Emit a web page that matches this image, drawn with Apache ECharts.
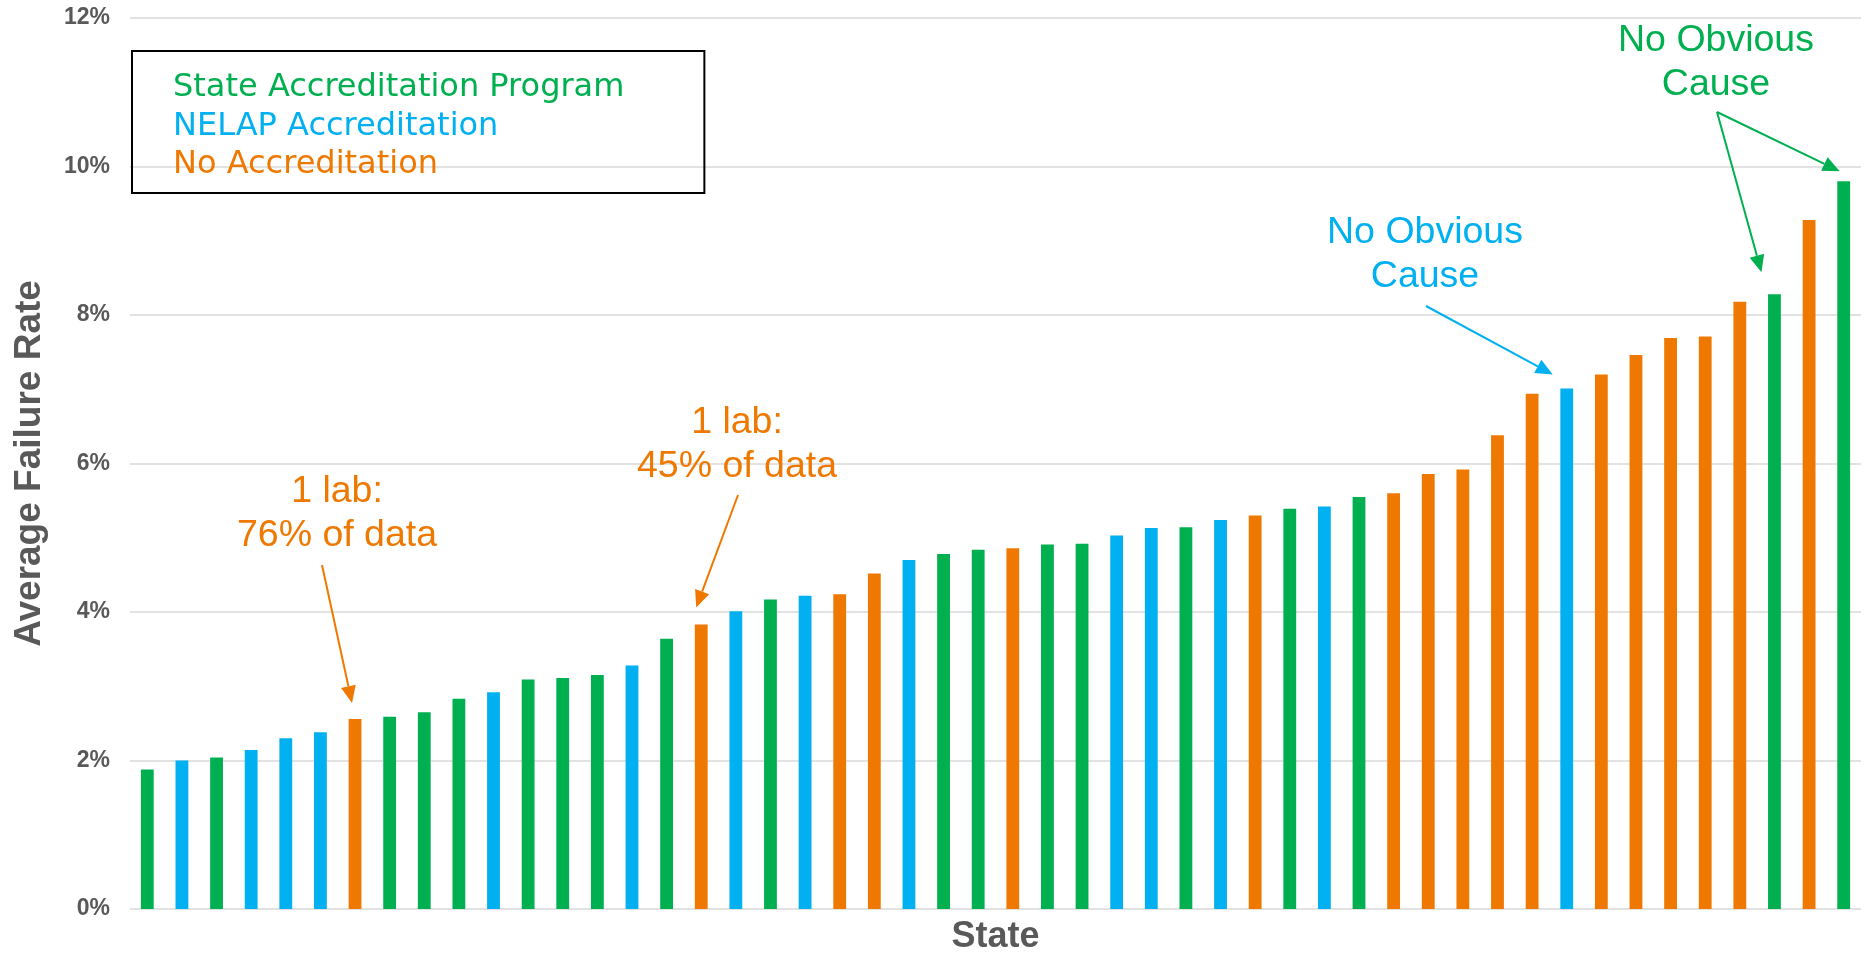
<!DOCTYPE html>
<html><head><meta charset="utf-8">
<script src="https://cdn.jsdelivr.net/npm/echarts@6/dist/echarts.min.js"></script>
<style>html,body{margin:0;padding:0;background:#fff}#c{width:1870px;height:956px}</style>
</head><body><div id="c"></div>
<script>
// ---- data ----
const categories = ['1','2','3','4','5','6','7','8','9','10','11','12','13','14','15','16','17','18','19','20',
  '21','22','23','24','25','26','27','28','29','30','31','32','33','34','35','36','37','38','39','40',
  '41','42','43','44','45','46','47','48','49','50'];
const failureRate = [1.88, 2.00, 2.04, 2.14, 2.30, 2.38, 2.56, 2.59, 2.65, 2.83,
  2.92, 3.09, 3.11, 3.15, 3.28, 3.64, 3.83, 4.01, 4.17, 4.22,
  4.24, 4.52, 4.70, 4.78, 4.84, 4.86, 4.91, 4.92, 5.03, 5.13,
  5.14, 5.24, 5.30, 5.39, 5.42, 5.55, 5.60, 5.86, 5.92, 6.38,
  6.94, 7.01, 7.20, 7.46, 7.69, 7.71, 8.18, 8.28, 9.28, 9.80];
// S = State Accreditation Program, N = NELAP Accreditation, O = No Accreditation
const accreditation = ['S','N','S','N','N','N','O','S','S','S',
  'N','S','S','S','N','S','O','N','S','N',
  'O','O','N','S','S','O','S','S','N','N',
  'S','N','O','S','N','S','O','O','O','O',
  'O','N','O','O','O','O','O','S','O','S'];
const groupKeys = ['S','N','O'];
const groupNames = ['State Accreditation Program','NELAP Accreditation','No Accreditation'];
const yTicks = [0, 2, 4, 6, 8, 10, 12];
// annotations: text, target bar indices
const annotations = [
  {text: '1 lab:\n76% of data', group: 'O', targets: [6]},
  {text: '1 lab:\n45% of data', group: 'O', targets: [16]},
  {text: 'No Obvious\nCause', group: 'N', targets: [41]},
  {text: 'No Obvious\nCause', group: 'S', targets: [47, 49]}
];

// ---- styles ----
const colors = {S: '#00B050', N: '#00B0F0', O: '#EF7800'};
const annLayout = [
  {cx: 337, cy: 514, start: [322, 565], tipOff: [[-3, -16]]},
  {cx: 737, cy: 445, start: [738, 495], tipOff: [[-5, -17]]},
  {cx: 1425, cy: 255, start: [1426, 306], tipOff: [[-14, -14]]},
  {cx: 1716, cy: 63, start: [1717, 112], tipOff: [[-13, -22], [-4, -10]]}
];

const chart = echarts.init(document.getElementById('c'), null, {renderer: 'canvas'});
const series = groupKeys.map((k, gi) => ({
  name: groupNames[gi],
  type: 'bar',
  barWidth: '37%',
  barGap: '-100%',
  itemStyle: {color: colors[k]},
  emphasis: {disabled: true},
  data: failureRate.map((v, i) => accreditation[i] === k ? v : '-')
}));

chart.setOption({
  animation: false,
  backgroundColor: '#fff',
  grid: {left: 130, right: 9, top: 18, bottom: 47, containLabel: false, outerBoundsMode: 'none'},
  legend: {
    orient: 'vertical', left: 132, top: 51,
    padding: [19, 80, 10, 36], itemGap: 2.5,
    itemWidth: 0, itemHeight: 0, icon: 'rect',
    borderColor: '#000', borderWidth: 2, selectedMode: false,
    textStyle: {fontFamily: 'DejaVu Sans', fontSize: 32, lineHeight: 36},
    data: groupKeys.map((k, gi) => ({name: groupNames[gi], textStyle: {color: colors[k]}}))
  },
  xAxis: {
    type: 'category', data: categories,
    name: 'State', nameLocation: 'middle', nameGap: 10,
    nameTextStyle: {fontFamily: 'Liberation Sans', fontWeight: 'bold', fontSize: 36, color: '#595959', verticalAlign: 'top'},
    axisLine: {show: false}, axisTick: {show: false}, axisLabel: {show: false}
  },
  yAxis: {
    type: 'value', min: yTicks[0], max: yTicks[yTicks.length - 1], interval: yTicks[1] - yTicks[0],
    name: 'Average Failure Rate', nameLocation: 'middle', nameGap: 82,
    nameTextStyle: {fontFamily: 'Liberation Sans', fontWeight: 'bold', fontSize: 37, color: '#595959'},
    axisLine: {show: false}, axisTick: {show: false},
    axisLabel: {formatter: '{value}%', fontFamily: 'Liberation Sans', fontWeight: 'bold', fontSize: 23, color: '#595959', margin: 20},
    splitLine: {lineStyle: {color: '#D9D9D9', width: 1.5}}
  },
  series: series
});

// ---- annotations anchored to bar tops ----
const elements = [];
annotations.forEach((a, ai) => {
  const L = annLayout[ai];
  const col = colors[a.group];
  elements.push({
    type: 'text', silent: true,
    style: {text: a.text, x: L.cx, y: L.cy, align: 'center', verticalAlign: 'middle',
      fontFamily: 'Liberation Sans', fontSize: 37.5, lineHeight: 44, fill: col}
  });
  a.targets.forEach((t, ti) => {
    const p = chart.convertToPixel({gridIndex: 0}, [t, failureRate[t]]);
    const tip = [p[0] + L.tipOff[ti][0], p[1] + L.tipOff[ti][1]];
    const s = L.start;
    const dx = tip[0] - s[0], dy = tip[1] - s[1];
    const len = Math.sqrt(dx * dx + dy * dy);
    const ux = dx / len, uy = dy / len;
    const hl = 17, hw = 7.5;
    const base = [tip[0] - ux * hl, tip[1] - uy * hl];
    elements.push({
      type: 'line', silent: true,
      shape: {x1: s[0], y1: s[1], x2: base[0], y2: base[1]},
      style: {stroke: col, lineWidth: 2}
    });
    elements.push({
      type: 'polygon', silent: true,
      shape: {points: [tip, [base[0] - uy * hw, base[1] + ux * hw], [base[0] + uy * hw, base[1] - ux * hw]]},
      style: {fill: col}
    });
  });
});
chart.setOption({graphic: {elements: elements}});
</script>
</body></html>
